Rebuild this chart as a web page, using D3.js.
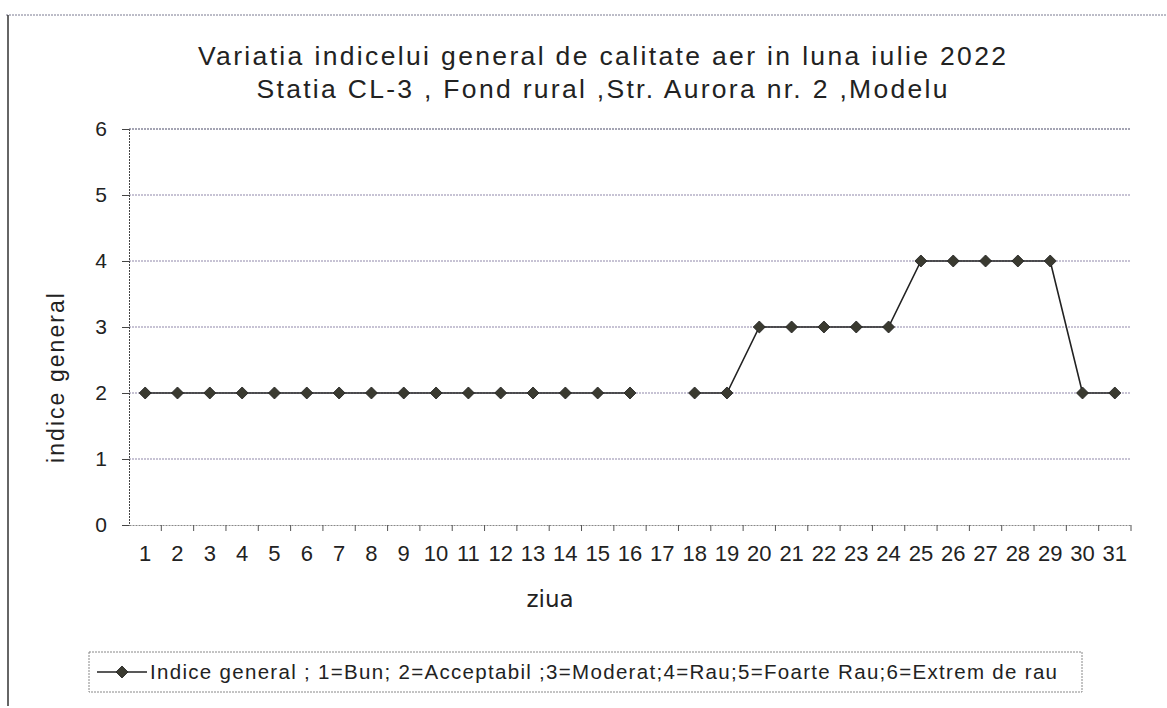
<!DOCTYPE html>
<html>
<head>
<meta charset="utf-8">
<title>Variatia indicelui general de calitate aer - iulie 2022</title>
<script src="https://d3js.org/d3.v7.min.js"></script>
<style>
  body { margin: 0; background: #fff; }
  svg text { font-family: "Liberation Sans", Arial, sans-serif; fill: #222; }
</style>
</head>
<body>
<script>
// data (day 17 has no value)
var days = ["1","2","3","4","5","6","7","8","9","10","11","12","13","14","15","16",
            "17","18","19","20","21","22","23","24","25","26","27","28","29","30","31"];
var indice = [2,2,2,2,2,2,2,2,2,2,2,2,2,2,2,2,
              null,2,2,3,3,3,3,3,4,4,4,4,4,2,2];
var yTicks = [0,1,2,3,4,5,6];
var titleLines = ["Variatia indicelui general de calitate aer in luna iulie 2022",
                  "Statia CL-3 , Fond rural ,Str. Aurora nr. 2 ,Modelu"];
var legendText = "Indice  general ; 1=Bun; 2=Acceptabil ;3=Moderat;4=Rau;5=Foarte Rau;6=Extrem de rau";

var W = 1167, H = 708;
var mLeft = 129, mRight = 1131, mTop = 129, mBottom = 525;

var svg = d3.select("body").append("svg")
  .attr("width", W).attr("height", H);

// outer frame (only top and left edges show on the scan)
svg.append("line").attr("x1", 6).attr("x2", 1167).attr("y1", 15).attr("y2", 15)
  .attr("stroke", "#7a7a90").attr("stroke-dasharray", "2,1");
svg.append("line").attr("x1", 8).attr("x2", 8).attr("y1", 15).attr("y2", 706)
  .attr("stroke", "#333").attr("stroke-width", 1.5);

var x = d3.scaleBand().domain(days).range([mLeft, mRight]);
var y = d3.scaleLinear().domain([0, 6]).range([mBottom, mTop]);

// gridlines
svg.append("g").selectAll("line").data(yTicks.slice(1)).enter().append("line")
  .attr("x1", mLeft).attr("x2", mRight)
  .attr("y1", function(d) { return y(d); })
  .attr("y2", function(d) { return y(d); })
  .attr("stroke", function(d) { return d === 6 ? "#4a4a68" : "#9088aa"; })
  .attr("stroke-width", 1.2).attr("stroke-dasharray", "2,1");

// y axis
var yAxis = svg.append("g").attr("transform", "translate(" + mLeft + ",0)")
  .call(d3.axisLeft(y).tickValues(yTicks).tickSize(7).tickPadding(15).tickFormat(d3.format("d")));
yAxis.select(".domain").attr("stroke", "#444").attr("stroke-dasharray", "2,1");
yAxis.selectAll(".tick line").attr("stroke", "#444");
yAxis.selectAll("text").style("font-size", "21px").attr("fill", "#444");

// x axis, ticks between categories
var xAxis = svg.append("g").attr("transform", "translate(0," + mBottom + ")")
  .call(d3.axisBottom(x).tickSize(0).tickPadding(20));
xAxis.select(".domain").attr("stroke", "#888").attr("stroke-dasharray", "2,1");
xAxis.selectAll("text").style("font-size", "22px").attr("fill", "#333");
xAxis.append("g").selectAll("line").data(days).enter().append("line")
  .attr("x1", function(d) { return x(d) + x.bandwidth(); })
  .attr("x2", function(d) { return x(d) + x.bandwidth(); })
  .attr("y1", 0).attr("y2", 6).attr("stroke", "#555");

// line series
var pts = days.map(function(d, i) { return { day: d, v: indice[i] }; });
var line = d3.line()
  .defined(function(d) { return d.v !== null; })
  .x(function(d) { return x(d.day) + x.bandwidth() / 2; })
  .y(function(d) { return y(d.v); });
svg.append("path").datum(pts).attr("d", line)
  .attr("fill", "none").attr("stroke", "#222").attr("stroke-width", 1.6);

// squat diamond marker: square turned 45 degrees
var marker = d3.symbol().type(d3.symbolSquare).size(72);
svg.append("g").selectAll("path").data(pts.filter(function(d) { return d.v !== null; }))
  .enter().append("path")
  .attr("d", marker)
  .attr("transform", function(d) {
    return "translate(" + (x(d.day) + x.bandwidth() / 2) + "," + y(d.v) + ") rotate(45)";
  })
  .attr("fill", "#3a3a30").attr("stroke", "#222").attr("stroke-width", 0.8);

// titles
var titleWidths = [808, 691];
svg.append("g").selectAll("text").data(titleLines).enter().append("text")
  .attr("x", 602).attr("y", function(d, i) { return 65 + i * 33; })
  .attr("text-anchor", "middle").style("font-size", "26.5px")
  .attr("textLength", function(d, i) { return titleWidths[i]; })
  .attr("lengthAdjust", "spacing")
  .text(function(d) { return d; });

svg.append("text")
  .attr("transform", "translate(64,378) rotate(-90)")
  .attr("text-anchor", "middle").style("font-size", "23px")
  .attr("textLength", 170).attr("lengthAdjust", "spacing")
  .text("indice general");

svg.append("text")
  .attr("x", 550).attr("y", 607).attr("text-anchor", "middle")
  .style("font-family", "'DejaVu Sans', Verdana, sans-serif").style("font-size", "23px")
  .text("ziua");

// legend
var lg = svg.append("g");
lg.append("rect").attr("x", 89).attr("y", 652).attr("width", 993).attr("height", 40)
  .attr("fill", "#fff").attr("stroke", "#888").attr("stroke-dasharray", "2,1");
lg.append("line").attr("x1", 97).attr("x2", 147).attr("y1", 672).attr("y2", 672)
  .attr("stroke", "#222").attr("stroke-width", 1.6);
lg.append("path").attr("d", marker).attr("transform", "translate(122,672) rotate(45)")
  .attr("fill", "#3a3a30").attr("stroke", "#222").attr("stroke-width", 0.8);
lg.append("text").attr("x", 150).attr("y", 679)
  .style("font-size", "20.5px").attr("fill", "#333")
  .attr("textLength", 907).attr("lengthAdjust", "spacing")
  .text(legendText);
</script>
</body>
</html>
